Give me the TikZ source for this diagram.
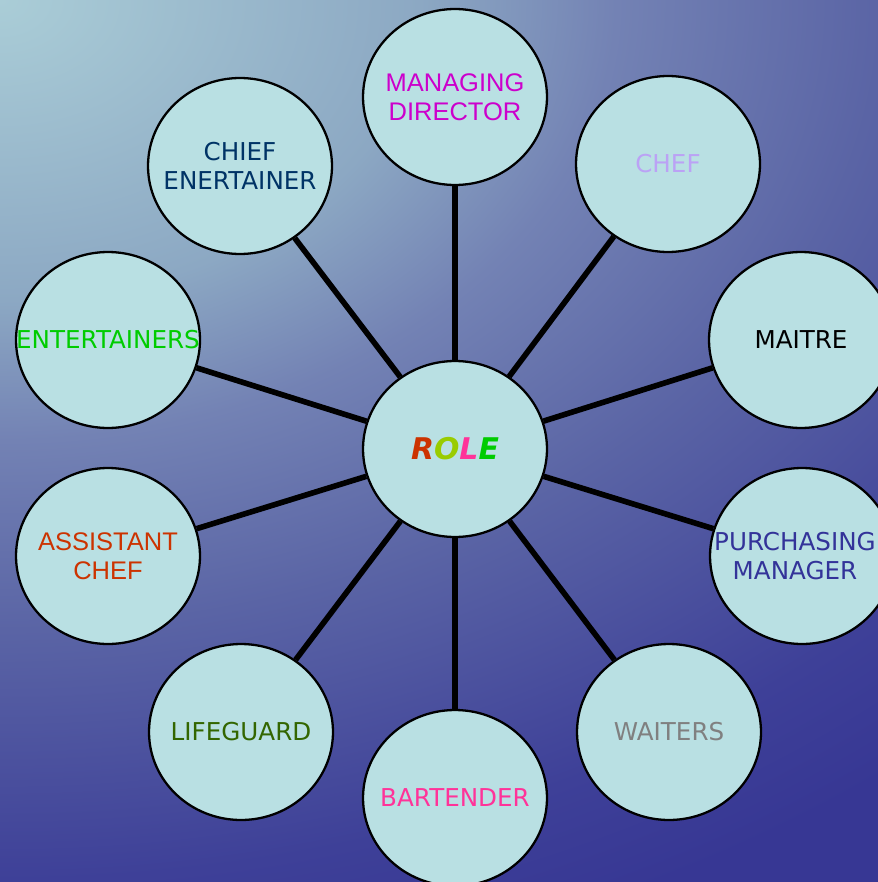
\documentclass[tikz,border=0pt]{standalone}
\usepackage{fontspec}
\usepackage{tikz}
\usepackage{xcolor}
\usetikzlibrary{shapes.geometric, positioning}
\setmainfont{Liberation Sans}
\newfontfamily\comicfont{DejaVu Sans}
\definecolor{Bubble}{HTML}{B9E0E3}
\definecolor{Role_R}{HTML}{CC3300}
\definecolor{Role_O}{HTML}{99CC00}
\definecolor{Role_L}{HTML}{FF3399}
\definecolor{Role_E}{HTML}{00CC00}
\definecolor{Txt_Director}{HTML}{CC00CC}
\definecolor{Txt_Chef}{HTML}{BBA2F5}
\definecolor{Txt_Purchasing}{HTML}{333399}
\definecolor{Txt_Waiters}{HTML}{808080}
\definecolor{Txt_Lifeguard}{HTML}{336600}
\definecolor{Txt_ChiefEnt}{HTML}{003366}
% light corner top left, deep blue further away (25bp = edge of the shaded box)
\pgfdeclareradialshading{backglow}{\pgfpoint{0bp}{0bp}}{%
  rgb(0bp)=(0.667,0.804,0.843);
  rgb(7.5bp)=(0.549,0.659,0.765);
  rgb(11bp)=(0.451,0.510,0.706);
  rgb(15.75bp)=(0.353,0.392,0.647);
  rgb(22bp)=(0.243,0.251,0.596);
  rgb(25bp)=(0.216,0.216,0.580);
  rgb(50bp)=(0.216,0.216,0.580)}
% label that does not widen its bubble; optional shift to the left
\newcommand{\rolelabel}[2][0pt]{\makebox[0pt]{\kern-#1\raisebox{-1.7pt}[\height][\depth]{\begin{tabular}{@{}c@{}}#2\end{tabular}}\kern#1}}

\begin{document}
\begin{tikzpicture}[x=0.02cm, y=-0.02cm,
    bubble/.style={ellipse, draw=black, line width=1.3pt, fill=Bubble,
      minimum width=3.68cm, minimum height=3.52cm, inner sep=0pt},
    comic/.style={font=\comicfont\fontsize{14}{16.5}\selectfont},
    plain/.style={font=\fontsize{14.5}{16.5}\selectfont},
    spoke/.style={line width=3.2pt, black}]
    \useasboundingbox (0,0) rectangle (878,882);

    % Background
    \begin{scope}
        \clip (0,0) rectangle (878,882);
        \shade[shading=backglow] (-1400,-1000) rectangle (1400,1000);
    \end{scope}

    % Centre
    \node[bubble, font=\comicfont\bfseries\itshape\fontsize{17}{20}\selectfont] (role) at (455,449)
        {\rolelabel{\textcolor{Role_R}{R}\textcolor{Role_O}{O}\textcolor{Role_L}{L}\textcolor{Role_E}{E}}};

    % Roles around it
    \node[bubble, plain, text=Txt_Director] (director) at (455,97) {\rolelabel{MANAGING\\DIRECTOR}};
    \node[bubble, comic, text=Txt_Chef] (chef) at (668,164) {\rolelabel{CHEF}};
    \node[bubble, comic, text=black] (maitre) at (801,340) {\rolelabel{MAITRE}};
    \node[bubble, comic, text=Txt_Purchasing] (purchasing) at (802,556) {\rolelabel[4pt]{PURCHASING\\MANAGER}};
    \node[bubble, comic, text=Txt_Waiters] (waiters) at (669,732) {\rolelabel{WAITERS}};
    \node[bubble, comic, text=Role_L] (bartender) at (455,798) {\rolelabel{BARTENDER}};
    \node[bubble, comic, text=Txt_Lifeguard] (lifeguard) at (241,732) {\rolelabel{LIFEGUARD}};
    \node[bubble, plain, text=Role_R] (asschef) at (108,556) {\rolelabel{ASSISTANT\\CHEF}};
    \node[bubble, comic, text=Role_E] (entertainers) at (108,340) {\rolelabel{ENTERTAINERS}};
    \node[bubble, comic, text=Txt_ChiefEnt] (chiefent) at (240,166) {\rolelabel{CHIEF\\ENERTAINER}};

    % Spokes
    \foreach \n in {director, chef, maitre, purchasing, waiters, bartender, lifeguard, asschef, entertainers, chiefent}
        \draw[spoke] (role) -- (\n);
\end{tikzpicture}
\end{document}
